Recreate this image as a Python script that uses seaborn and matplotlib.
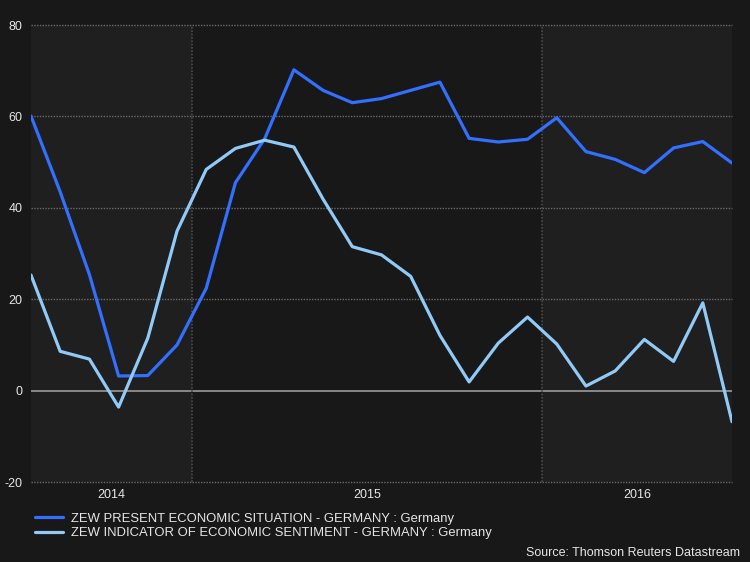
import matplotlib
matplotlib.use("Agg")
import matplotlib.pyplot as plt
import seaborn as sns
import pandas as pd

# monthly readings, Jul 2014 .. Jul 2016
months = list(range(25))
present_situation = [60.1, 43.5, 25.4, 3.2, 3.3, 10.0, 22.4, 45.5, 55.1, 70.2,
                     65.7, 63.0, 63.9, 65.7, 67.5, 55.2, 54.4, 55.0, 59.7, 52.3,
                     50.6, 47.7, 53.1, 54.5, 49.8]
economic_sentiment = [25.3, 8.6, 6.9, -3.6, 11.5, 34.9, 48.4, 53.0, 54.8, 53.3,
                      41.9, 31.5, 29.7, 25.0, 12.1, 1.9, 10.4, 16.1, 10.2, 1.0,
                      4.3, 11.2, 6.4, 19.2, -6.8]
series_names = ["ZEW PRESENT ECONOMIC SITUATION - GERMANY : Germany",
                "ZEW INDICATOR OF ECONOMIC SENTIMENT - GERMANY : Germany"]
year_labels = ["2014", "2015", "2016"]
year_breaks = [5.5, 17.5]

BG = "#181818"
BAND = "#1f1f1f"
TEXT = "#e6e6e6"

data = pd.DataFrame({
    "month": months * 2,
    "value": present_situation + economic_sentiment,
    "series": [series_names[0]] * 25 + [series_names[1]] * 25,
})

sns.set_style("dark")
plt.rcParams["font.family"] = ["Liberation Sans", "DejaVu Sans"]

fig = plt.figure(figsize=(7.5, 5.62), dpi=100, facecolor=BG)
ax = fig.add_axes([0.0413, 0.1423, 0.9347, 0.8132])
ax.set_facecolor(BG)

x0, x1 = months[0], months[-1]
ax.axvspan(x0, year_breaks[0], color=BAND, zorder=0, lw=0)
ax.axvspan(year_breaks[1], x1, color=BAND, zorder=0, lw=0)

for v in [-20, 20, 40, 60, 80]:
    ax.axhline(v, color="#6a6a6a", lw=1, ls=(0, (1, 1)), zorder=1,
               clip_on=False)
ax.axhline(0, color="#9a9a9a", lw=1.2, zorder=1)
for b in year_breaks:
    ax.axvline(b, color="#4a4a4a", lw=1.2, ls=(0, (1, 1)), zorder=1)

sns.lineplot(data=data, x="month", y="value", hue="series",
             palette=["#3370ff", "#91c9f7"], linewidth=2.3, ax=ax,
             legend=False, zorder=3)

ax.set_xlim(x0, x1)
ax.set_ylim(-20, 80)
ax.set_yticks([-20, 0, 20, 40, 60, 80])
ax.set_yticklabels(["-20", "0", "20", "40", "60", "80"])
edges = [x0] + year_breaks + [x1]
ax.set_xticks([(edges[i] + edges[i + 1]) / 2 for i in range(3)])
ax.set_xticklabels(year_labels)
ax.tick_params(colors=TEXT, labelsize=9, length=0, pad=5)
ax.tick_params(axis="y", pad=6)
ax.grid(False)
ax.set_xlabel("")
ax.set_ylabel("")
for s in ax.spines.values():
    s.set_visible(False)

handles = [plt.Line2D([], [], color="#3370ff", lw=2.3),
           plt.Line2D([], [], color="#91c9f7", lw=2.3)]
fig.legend(handles, series_names, loc="upper left",
           bbox_to_anchor=(0.046, 0.088), frameon=False, fontsize=9.35,
           labelcolor=TEXT, handlelength=2.2, handletextpad=0.6,
           labelspacing=0.2, borderaxespad=0, borderpad=0)

fig.text(0.987, 0.006, "Source: Thomson Reuters Datastream", color=TEXT,
         fontsize=9, ha="right", va="bottom")

fig.savefig("out.png", dpi=100, facecolor=BG)
